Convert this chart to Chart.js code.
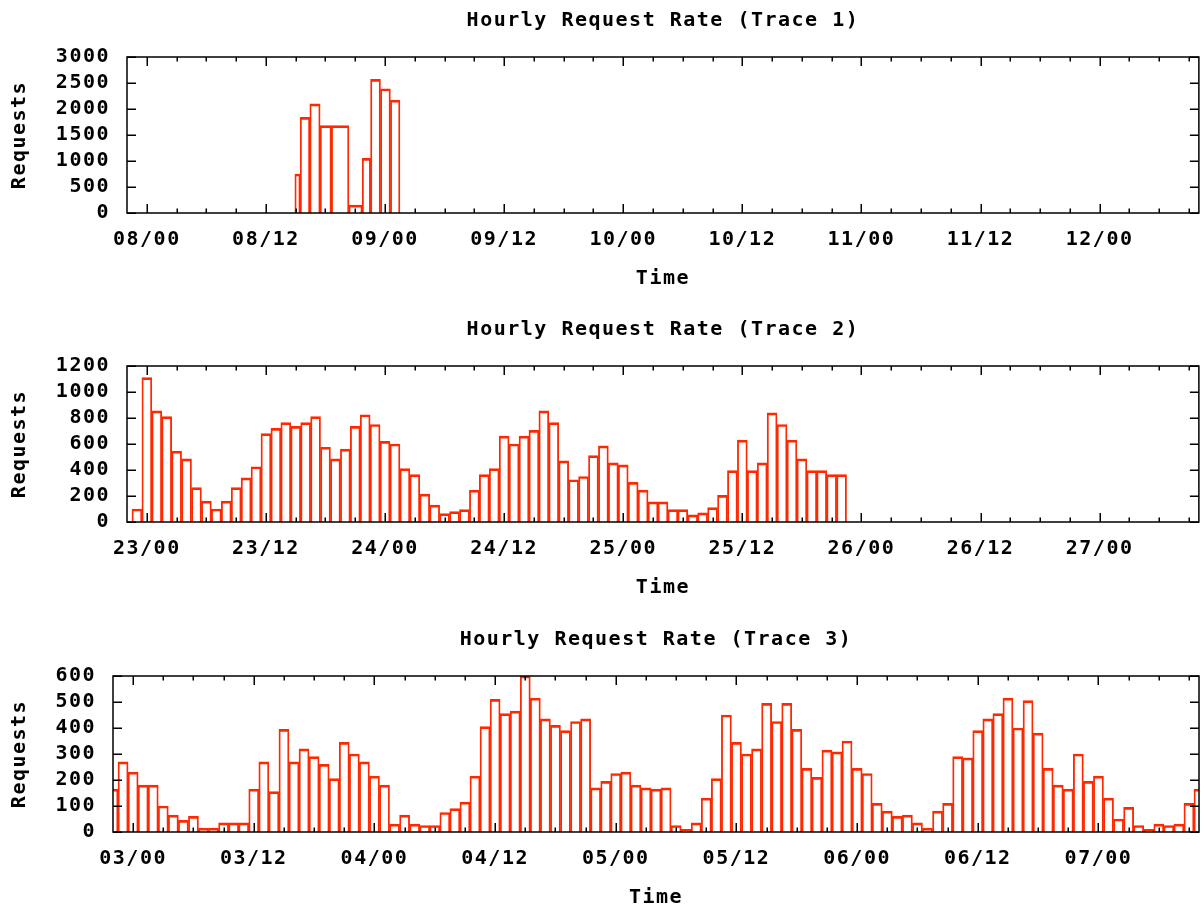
<!DOCTYPE html>
<html>
<head>
<meta charset="utf-8">
<script src="https://cdn.jsdelivr.net/npm/chart.js@4/dist/chart.umd.min.js"></script>
<style>
  html, body { margin: 0; padding: 0; background: #fff; width: 1204px; height: 909px; overflow: hidden; }
  canvas { position: absolute; left: 0; }
</style>
</head>
<body>
<canvas id="trace1" width="1204" height="290" style="top:0px"></canvas>
<canvas id="trace2" width="1204" height="290" style="top:309px"></canvas>
<canvas id="trace3" width="1204" height="290" style="top:619px"></canvas>
<script>
// ---- Trace 1: bins (hours since 08/00) and request counts ----
const trace1Hours    = [15.18, 15.72, 17.12, 17.8, 19.38, 21.34, 22.06, 23.02, 24.06, 25.02];
const trace1Requests = [750, 1840, 2100, 1680, 1680, 150, 1050, 2570, 2390, 2170];
const trace1Days     = ['08/00', '08/12', '09/00', '09/12', '10/00', '10/12', '11/00', '11/12', '12/00'];

// ---- Trace 2: hourly bins starting one hour before 23/00 ----
const trace2FirstHour = -1;
const trace2Requests = [
  100, 1110, 855, 810, 545, 485, 265, 160, 100, 160,
  265, 340, 425, 680, 720, 765, 735, 765, 810, 575,
  485, 560, 735, 825, 750, 620, 600, 410, 365, 215,
  130, 65, 80, 95, 245, 365, 410, 660, 600, 660,
  705, 855, 765, 470, 325, 350, 510, 585, 455, 440,
  305, 245, 155, 155, 95, 95, 55, 70, 110, 205,
  395, 630, 395, 455, 840, 750, 630, 485, 395, 395,
  365, 365
];
const trace2Days = ['23/00', '23/12', '24/00', '24/12', '25/00', '25/12', '26/00', '26/12', '27/00'];

// ---- Trace 3: hourly bins starting two hours before 03/00 ----
const trace3FirstHour = -2;
const trace3Requests = [
  165, 270, 230, 180, 180, 100, 65, 45, 60, 15,
  15, 35, 35, 35, 165, 270, 155, 395, 270, 320,
  290, 260, 205, 345, 300, 270, 215, 180, 30, 65,
  30, 25, 25, 75, 90, 115, 215, 405, 510, 455,
  465, 600, 515, 435, 410, 390, 425, 435, 170, 195,
  225, 230, 180, 170, 165, 170, 25, 10, 35, 130,
  205, 450, 345, 300, 320, 495, 425, 495, 395, 245,
  210, 315, 308, 350, 245, 225, 110, 80, 60, 65,
  35, 15, 80, 110, 290, 285, 390, 435, 455, 515,
  400, 505, 380, 245, 180, 165, 300, 195, 215, 130,
  50, 95, 25, 10, 30, 25, 30, 110, 165
];
const trace3Days = ['03/00', '03/12', '04/00', '04/12', '05/00', '05/12', '06/00', '06/12', '07/00'];

// x axis spans 2 hours before the first day label to 106 hours after it
const X_MIN = -2, X_MAX = 106;
const MINOR_STEP = 3, MAJOR_STEP = 12;
const BAR_RED = 'rgb(255,40,0)';

Chart.defaults.font.family = "'DejaVu Sans Mono', monospace";
Chart.defaults.font.size = 20;
Chart.defaults.font.weight = 'bold';
Chart.defaults.font.lineHeight = 1.2;
Chart.defaults.color = '#000';

// wide, blocky lettering
const letterSpacing = {
  id: 'letterSpacing',
  beforeLayout(chart) { chart.ctx.letterSpacing = '1.5px'; },
  beforeDraw(chart) { chart.ctx.letterSpacing = '1.5px'; }
};

// closed frame with inward tick marks, mirrored on all four sides
const frameTicks = {
  id: 'frameTicks',
  afterDatasetsDraw(chart) {
    const { ctx, chartArea: a, scales: { x, y } } = chart;
    ctx.save();
    ctx.strokeStyle = '#000';
    ctx.lineWidth = 1.5;
    ctx.beginPath();
    x.ticks.forEach(t => {
      const px = Math.round(x.getPixelForValue(t.value)) + 0.25;
      const len = t.major ? 9 : 4.5;
      ctx.moveTo(px, a.bottom); ctx.lineTo(px, a.bottom - len);
      ctx.moveTo(px, a.top);    ctx.lineTo(px, a.top + len);
    });
    y.ticks.forEach(t => {
      const py = Math.round(y.getPixelForValue(t.value)) + 0.25;
      ctx.moveTo(a.left, py);  ctx.lineTo(a.left + 9, py);
      ctx.moveTo(a.right, py); ctx.lineTo(a.right - 9, py);
    });
    ctx.stroke();
    ctx.strokeRect(a.left, a.top, a.right - a.left, a.bottom - a.top);
    ctx.restore();
  }
};

function drawPanel(canvasId, title, hours, requests, yMax, yStep, dayLabels, axisWidth) {
  new Chart(document.getElementById(canvasId), {
    type: 'bar',
    data: {
      datasets: [{
        data: hours.map((h, i) => ({ x: h, y: requests[i] })),
        backgroundColor: 'rgba(0,0,0,0)',
        borderColor: BAR_RED,
        borderWidth: { top: 2, left: 1.2, right: 1.2, bottom: 0 },
        borderSkipped: false,
        barThickness: 'flex',
        categoryPercentage: 1,
        barPercentage: 1,
        clip: 0
      }]
    },
    options: {
      responsive: false,
      animation: false,
      devicePixelRatio: 1,
      layout: { padding: { left: 0, right: 2, top: 0, bottom: 1 } },
      plugins: {
        legend: { display: false },
        tooltip: { enabled: false },
        title: {
          display: true,
          text: title,
          fullSize: false,
          padding: { top: 9, bottom: 24 },
          font: { size: 20, weight: 'bold' },
          color: '#000'
        }
      },
      scales: {
        x: {
          type: 'linear',
          min: X_MIN,
          max: X_MAX,
          offset: false,
          grid: { display: false, drawTicks: false },
          border: { display: false },
          afterBuildTicks(scale) {
            const ticks = [];
            for (let h = 0; h <= X_MAX; h += MINOR_STEP) {
              ticks.push({ value: h, major: h % MAJOR_STEP === 0 });
            }
            scale.ticks = ticks;
          },
          afterFit(scale) { scale.height = 76; },
          ticks: {
            autoSkip: false,
            maxRotation: 0,
            minRotation: 0,
            padding: 15,
            callback: (v) => (v % MAJOR_STEP === 0 ? dayLabels[v / MAJOR_STEP] : '')
          },
          title: { display: true, text: 'Time', padding: { top: 0, bottom: -2 } }
        },
        y: {
          min: 0,
          max: yMax,
          grid: { display: false, drawTicks: false },
          border: { display: false },
          afterFit(scale) { scale.width = axisWidth; },
          ticks: {
            stepSize: yStep,
            autoSkip: false,
            padding: 17,
            callback: (v) => String(v)
          },
          title: { display: true, text: 'Requests', padding: { top: 8, bottom: 0 } }
        }
      }
    },
    plugins: [letterSpacing, frameTicks]
  });
}

const hourly = (first, values) => values.map((_, i) => first + i);

drawPanel('trace1', 'Hourly Request Rate (Trace 1)', trace1Hours, trace1Requests, 3000, 500, trace1Days, 127);
drawPanel('trace2', 'Hourly Request Rate (Trace 2)', hourly(trace2FirstHour, trace2Requests), trace2Requests, 1200, 200, trace2Days, 127);
drawPanel('trace3', 'Hourly Request Rate (Trace 3)', hourly(trace3FirstHour, trace3Requests), trace3Requests, 600, 100, trace3Days, 113);
</script>
</body>
</html>
